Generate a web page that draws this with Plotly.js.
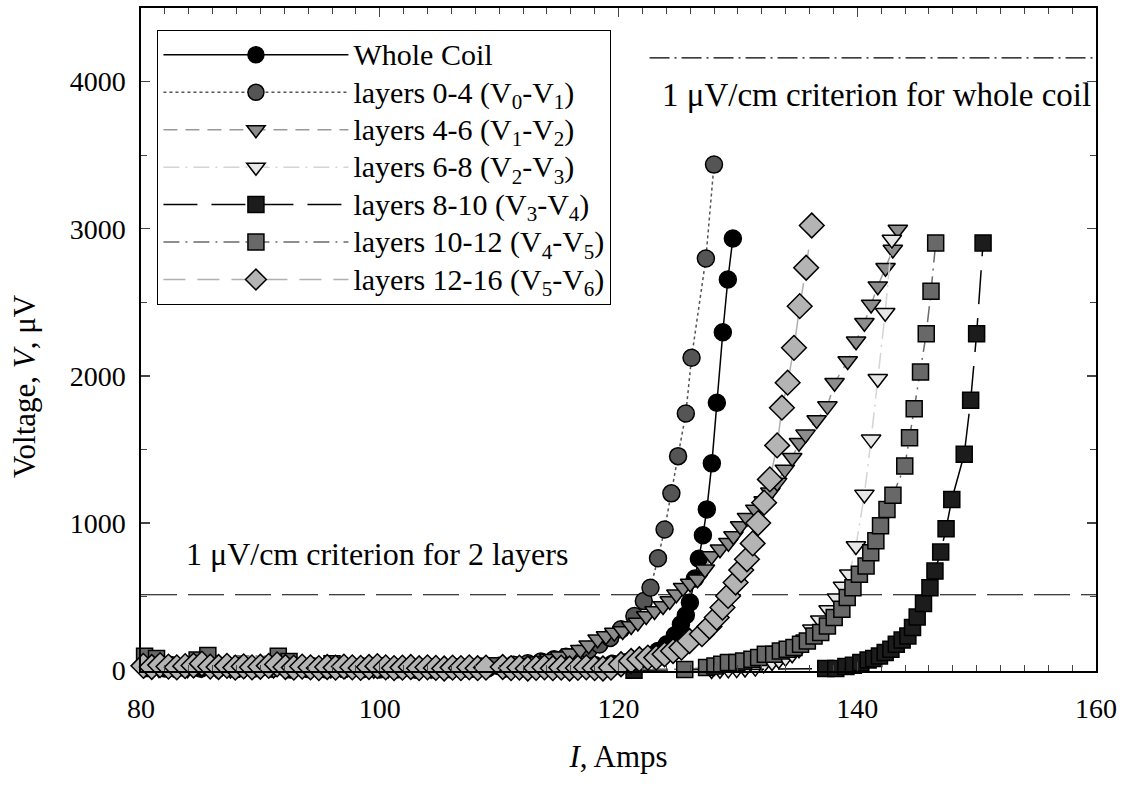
<!DOCTYPE html>
<html>
<head>
<meta charset="utf-8">
<script src="https://cdn.plot.ly/plotly-3.0.1.min.js"></script>
<style>html,body{margin:0;padding:0;background:#fff;}#chart{width:1123px;height:788px;}</style>
</head>
<body>
<div id="chart"></div>
<script>
// ---- Data ----
const wholeCoilI = [80.5, 82.0, 83.5, 85.0, 86.5, 88.0, 89.5, 91.0, 92.5, 94.0, 95.5, 97.0, 98.5, 100.0, 101.5, 103.0, 104.5, 106.0, 107.5, 109.0, 110.5, 112.0, 113.5, 115.0, 116.5, 118.0, 119.5, 120.8, 121.8, 122.6, 123.3, 124.05, 124.72, 125.23, 125.64, 125.98, 126.4, 126.73, 127.07, 127.4, 127.82, 128.24, 128.74, 129.16, 129.58];
const wholeCoilV = [15, 12, 18, 10, 14, 8, 12, 10, 6, 9, 5, 8, 6, 5, 7, 4, 6, 5, 8, 10, 12, 15, 18, 22, 28, 35, 45, 58, 75, 100, 131, 177, 238, 312, 374, 460, 623, 758, 917, 1093, 1406, 1818, 2297, 2655, 2934];

const layers04I = [80.5, 82.5, 84.5, 86.5, 88.5, 90.5, 92.5, 94.5, 96.5, 98.5, 100.5, 102.5, 104.5, 106.5, 108.5, 110.0, 111.2, 112.4, 113.5, 114.6, 115.6, 116.6, 117.5, 118.4, 119.3, 120.21, 121.33, 122.12, 122.68, 123.31, 123.86, 124.43, 124.99, 125.64, 126.12, 127.32, 128.0];
const layers04V = [40, 35, 45, 30, 38, 28, 32, 25, 22, 28, 20, 18, 22, 20, 25, 30, 38, 48, 60, 75, 92, 112, 140, 175, 220, 278, 369, 471, 561, 761, 957, 1202, 1455, 1745, 2124, 2798, 3436];

const layers46I = [80.3, 81.5, 82.7, 83.9, 85.1, 86.3, 87.5, 88.7, 89.9, 91.1, 92.3, 93.5, 94.7, 95.9, 97.1, 98.3, 99.5, 100.7, 101.9, 103.1, 104.3, 105.5, 106.7, 107.9, 109.1, 110.3, 111.3, 112.3, 113.3, 114.2, 115.1, 116.0, 116.8, 117.5, 118.25, 118.95, 119.65, 120.35, 121.06, 121.62, 122.32, 123.02, 123.73, 124.29, 124.85, 125.41, 126.0, 126.62, 127.24, 127.8, 128.5, 129.21, 129.63, 130.19, 130.76, 131.46, 132.16, 132.72, 133.29, 133.93, 134.55, 135.12, 135.67, 136.6, 137.5, 138.1, 139.2, 139.9, 140.6, 141.16, 141.72, 142.37, 142.98, 143.4];
const layers46V = [10, 8, 12, 6, 10, 8, 5, 9, 7, 5, 8, 4, 6, 5, 3, 6, 4, 5, 3, 5, 4, 6, 8, 12, 18, 28, 38, 50, 62, 78, 95, 115, 140, 170, 211, 233, 256, 267, 301, 324, 369, 403, 437, 471, 516, 561, 590, 618, 686, 776, 822, 867, 912, 980, 1037, 1093, 1150, 1210, 1275, 1365, 1444, 1546, 1603, 1700, 1795, 1954, 2101, 2236, 2361, 2486, 2610, 2735, 2859, 2995];

const layers68I = [127.8, 128.5, 129.2, 129.9, 130.6, 131.46, 132.16, 132.86, 133.43, 133.99, 134.55, 135.12, 135.67, 136.24, 136.9, 137.6, 138.3, 138.8, 139.33, 139.89, 140.6, 141.16, 141.72, 142.34, 142.9];
const layers68V = [2, 4, 6, 8, 12, 18, 41, 56, 70, 86, 109, 143, 211, 278, 340, 410, 490, 570, 652, 844, 1195, 1569, 1981, 2429, 2927];

const layers810I = [121.3, 137.36, 138.2, 139.05, 139.68, 140.3, 140.91, 141.38, 141.86, 142.34, 142.82, 143.27, 143.76, 144.24, 144.63, 145.02, 145.55, 146.09, 146.51, 146.99, 147.44, 147.92, 148.96, 149.5, 150.0, 150.54];
const layers810V = [0, 12, 12, 25, 34, 52, 70, 80, 97, 120, 143, 177, 205, 233, 290, 362, 453, 561, 674, 803, 962, 1161, 1467, 1834, 2287, 2904];

const layers1012I = [80.3, 81.3, 84.7, 85.6, 91.5, 92.4, 96.0, 100.0, 109.6, 125.55, 127.38, 128.08, 128.65, 129.21, 129.91, 130.48, 131.18, 131.74, 132.3, 133.0, 133.56, 134.13, 134.7, 135.25, 135.82, 136.38, 136.94, 137.5, 138.07, 138.71, 139.16, 139.64, 140.18, 140.74, 141.13, 141.56, 141.95, 142.49, 142.99, 143.98, 144.38, 144.77, 145.3, 145.78, 146.18, 146.57];
const layers1012V = [95, 80, 70, 100, 95, 60, 45, 30, 30, 5, 18, 29, 41, 52, 52, 63, 75, 86, 109, 109, 131, 143, 154, 177, 199, 233, 256, 301, 358, 414, 494, 561, 652, 708, 799, 880, 982, 1093, 1190, 1388, 1580, 1777, 2026, 2287, 2576, 2904];

const layers1216I = [80.2, 80.9, 81.6, 82.3, 83.0, 83.7, 84.4, 85.1, 85.8, 86.5,
  87.2, 87.9, 88.6, 89.3, 90.0, 90.7, 91.4, 92.1, 92.8, 93.5,
  94.2, 94.9, 95.6, 96.3, 97.0, 97.7, 98.4, 99.1, 99.8, 100.5,
  101.2, 101.9, 102.6, 103.3, 104.0, 104.7, 105.4, 106.1, 106.8, 107.5,
  108.2, 108.9, 110.3, 111.0, 111.7, 112.4, 113.1, 113.8, 114.5, 115.2,
  115.9, 116.6, 117.3, 118.0, 118.7,
  119.37, 120.21, 121.06, 121.75, 122.46, 123.16, 123.86, 124.57, 125.27, 125.95,
  126.99, 127.62, 128.23, 128.71, 129.18, 129.81, 130.28, 130.76, 131.24, 131.7,
  132.2, 132.68, 133.29, 133.69, 134.17, 134.7, 135.18, 135.72, 136.19];
const layers1216V = [30, 22, 35, 25, 20, 28, 32, 45, 25, 22,
  30, 18, 26, 20, 24, 30, 40, 22, 18, 25,
  20, 15, 22, 18, 25, 20, 16, 22, 28, 20,
  15, 18, 22, 14, 20, 16, 12, 18, 15, 20,
  14, 18, 22, 15, 18, 12, 16, 20, 14, 18,
  12, 16, 20, 15, 12,
  18, 41, 63, 75, 86, 86, 109, 131, 154, 199,
  245, 297, 358, 426, 505, 596, 681, 754, 862, 1000,
  1139, 1297, 1528, 1784, 1954, 2191, 2474, 2735, 3022];

const seriesNames = ['Whole Coil', 'layers 0-4 (V<sub>0</sub>-V<sub>1</sub>)', 'layers 4-6 (V<sub>1</sub>-V<sub>2</sub>)', 'layers 6-8 (V<sub>2</sub>-V<sub>3</sub>)', 'layers 8-10 (V<sub>3</sub>-V<sub>4</sub>)', 'layers 10-12 (V<sub>4</sub>-V<sub>5</sub>)', 'layers 12-16 (V<sub>5</sub>-V<sub>6</sub>)'];
const xTicks = [80, 100, 120, 140, 160];
const yTicks = [0, 1000, 2000, 3000, 4000];

const criterion2Layers = 513;      // µV, dashed line
const criterionWholeCoil = 4161;   // µV, dash-dot line
const criterionWholeStart = 122.6; // A

// ---- Styles ----
const FONT = 'Liberation Serif, Times New Roman, serif';
const outline = {color: '#000', width: 1.5};
function big(t) { return '<span style="font-size:30px">' + t + '</span>'; }
function tr(x, y, name, sym, fill, lineColor, dash, size) {
  return {x: x, y: y, name: big(name), type: 'scatter', mode: 'lines+markers', cliponaxis: false,
    line: {color: lineColor, width: 1.5, dash: dash},
    marker: {symbol: sym, size: size, color: fill, line: outline}};
}
const traces = [
  tr(wholeCoilI, wholeCoilV, seriesNames[0], 'circle', '#000000', '#000000', 'solid', 17),
  tr(layers04I, layers04V, seriesNames[1], 'circle', '#555555', '#555555', 'dot', 17),
  tr(layers46I, layers46V, seriesNames[2], 'triangle-down', '#8c8c8c', '#999999', '14px,8px', 17),
  tr(layers68I, layers68V, seriesNames[3], 'triangle-down', '#e6e6e6', '#d4d4d4', '16px,6px,2px,6px', 17),
  tr(layers810I, layers810V, seriesNames[4], 'square', '#1c1c1c', '#000000', '34px,14px', 16),
  tr(layers1012I, layers1012V, seriesNames[5], 'square', '#686868', '#6a6a6a', '16px,6px,2px,6px', 16),
  tr(layers1216I, layers1216V, seriesNames[6], 'diamond', '#b4b4b4', '#b0b0b0', '22px,12px', 19)
];

const layout = {
  width: 1123, height: 788,
  margin: {l: 141, r: 27, t: 8, b: 117},
  paper_bgcolor: '#fff', plot_bgcolor: '#fff',
  font: {family: FONT, size: 28, color: '#000'},
  showlegend: true,
  legend: {x: 0.017, y: 0.967, xanchor: 'left', yanchor: 'top',
    bordercolor: '#000', borderwidth: 1.2, bgcolor: '#fff',
    font: {family: FONT, size: 26.5, color: '#000'},
    itemwidth: 185, tracegroupgap: 0},
  xaxis: {range: [80, 160], tickvals: xTicks, ticks: 'inside', ticklen: 9, tickwidth: 1.3,
    minor: {dtick: 2, ticks: 'inside', ticklen: 6, tickwidth: 1},
    showline: true, linecolor: '#000', linewidth: 1.6, mirror: 'ticks', showgrid: false, zeroline: false,
    tickfont: {family: FONT, size: 28}, ticklabelstandoff: 12,
    title: {text: '<i>I</i>, Amps', font: {family: FONT, size: 31}, standoff: 22}},
  yaxis: {range: [-5, 4500], tickvals: yTicks, ticks: 'inside', ticklen: 9, tickwidth: 1.3,
    minor: {dtick: 500, ticks: 'inside', ticklen: 6, tickwidth: 1},
    showline: true, linecolor: '#000', linewidth: 1.6, mirror: 'ticks', showgrid: false, zeroline: false,
    tickfont: {family: FONT, size: 28}, ticklabelstandoff: 8},
  shapes: [
    {type: 'line', xref: 'paper', x0: 0, x1: 1, yref: 'y', y0: criterion2Layers, y1: criterion2Layers,
     line: {color: '#000', width: 1.2, dash: '36px,11px'}, layer: 'below'},
    {type: 'line', xref: 'x', x0: criterionWholeStart, x1: 160, yref: 'y', y0: criterionWholeCoil, y1: criterionWholeCoil,
     line: {color: '#000', width: 1.2, dash: '20px,5px,2px,5px'}, layer: 'below'}
  ],
  annotations: [
    {x: 141.6, y: 3911, xref: 'x', yref: 'y', text: '1 μV/cm criterion for whole coil', showarrow: false,
     xanchor: 'center', yanchor: 'middle', font: {family: FONT, size: 33}},
    {x: 83.6, y: 790, xref: 'x', yref: 'y', text: '1 μV/cm criterion for 2 layers', showarrow: false,
     xanchor: 'left', yanchor: 'middle', font: {family: FONT, size: 32}},
    {x: -0.1215, y: 0.43, xref: 'paper', yref: 'paper', text: 'Voltage, <i>V</i>, μV', showarrow: false,
     textangle: -90, xanchor: 'center', yanchor: 'middle', font: {family: FONT, size: 31}}
  ]
};

Plotly.newPlot('chart', traces, layout, {displayModeBar: false, staticPlot: true});
</script>
</body>
</html>
